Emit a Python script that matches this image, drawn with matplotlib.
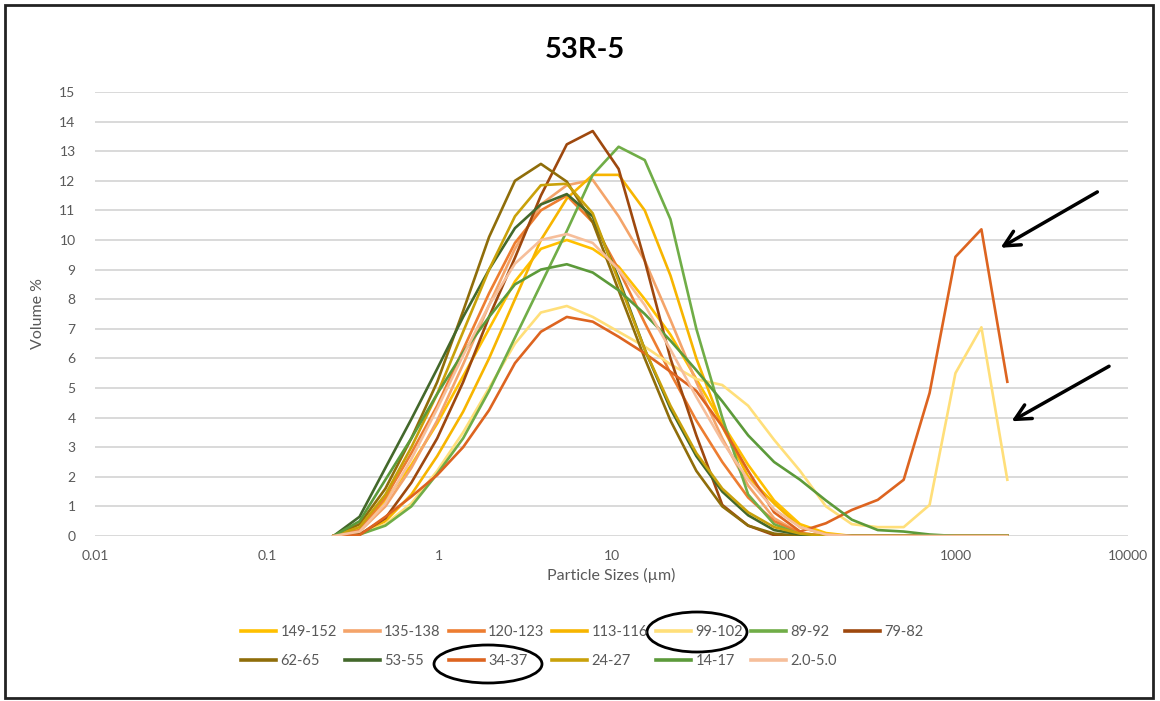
import matplotlib
matplotlib.use("Agg")
import matplotlib.pyplot as plt
from matplotlib.patches import Rectangle, Ellipse

plt.rcParams['font.family'] = ['Lato', 'DejaVu Sans']

# particle size bins (um)
sizes = [0.243, 0.344, 0.486, 0.688, 0.972, 1.375, 1.945, 2.75, 3.89, 5.50,
         7.78, 11.0, 15.6, 22.0, 31.1, 44.0, 62.2, 88.0, 124.5, 176,
         249, 352, 498, 704, 995, 1408, 1991]

s149_152 = [0, 0.2, 1.2, 2.4, 3.8, 5.4, 7.0, 8.6, 9.7, 10.0, 9.7, 9.1, 8.0, 6.8,
            5.3, 3.8, 2.4, 1.2, 0.4, 0.1, 0, 0, 0, 0, 0, 0, 0]
s135_138 = [0, 0.15, 1.0, 2.3, 3.9, 5.8, 7.8, 9.7, 11.2, 11.85, 12.03, 10.8, 9.3,
            7.3, 5.2, 3.3, 1.7, 0.6, 0.1, 0, 0, 0, 0, 0, 0, 0, 0]
s120_123 = [0, 0.2, 1.3, 2.8, 4.4, 6.3, 8.2, 9.9, 11.0, 11.5, 10.6, 9.0, 7.2,
            5.5, 3.9, 2.5, 1.3, 0.5, 0.1, 0, 0, 0, 0, 0, 0, 0, 0]
s113_116 = [0, 0.05, 0.5, 1.4, 2.7, 4.2, 6.0, 8.0, 10.0, 11.4, 12.2, 12.2, 11.0,
            8.8, 6.0, 3.7, 2.0, 1.1, 0.3, 0.05, 0, 0, 0, 0, 0, 0, 0]
s99_102 = [0, 0.05, 0.4, 1.1, 2.2, 3.5, 5.0, 6.5, 7.55, 7.77, 7.4, 6.9, 6.4,
           5.8, 5.3, 5.1, 4.4, 3.25, 2.2, 1.0, 0.4, 0.3, 0.3, 1.05, 5.5, 7.05, 1.9]
s89_92 = [0, 0.05, 0.35, 1.0, 2.1, 3.3, 4.9, 6.7, 8.5, 10.3, 12.2, 13.15, 12.7,
          10.7, 7.0, 4.0, 1.4, 0.4, 0.05, 0, 0, 0, 0, 0, 0, 0, 0]
s79_82 = [0, 0.05, 0.6, 1.8, 3.3, 5.2, 7.4, 9.4, 11.5, 13.23, 13.68, 12.4, 9.3,
          6.0, 3.4, 1.05, 0.35, 0.03, 0, 0, 0, 0, 0, 0, 0, 0, 0]
s62_65 = [0, 0.4, 1.6, 3.3, 5.2, 7.6, 10.1, 12.0, 12.57, 11.97, 10.6, 8.3, 6.0,
          3.9, 2.2, 1.0, 0.35, 0.08, 0, 0, 0, 0, 0, 0, 0, 0, 0]
s53_55 = [0, 0.65, 2.3, 3.95, 5.65, 7.4, 9.0, 10.4, 11.2, 11.55, 10.8, 8.7, 6.3,
          4.3, 2.7, 1.5, 0.7, 0.2, 0.05, 0, 0, 0, 0, 0, 0, 0, 0]
s34_37 = [0, 0.03, 0.65, 1.33, 2.06, 3.0, 4.25, 5.84, 6.9, 7.4, 7.24, 6.73, 6.17,
          5.55, 4.9, 3.7, 2.2, 0.8, 0.15, 0.43, 0.88, 1.22, 1.9, 4.83, 9.43, 10.36, 5.21]
s24_27 = [0, 0.3, 1.4, 3.0, 4.8, 6.9, 9.0, 10.8, 11.85, 11.9, 10.9, 8.6, 6.3,
          4.4, 2.8, 1.6, 0.8, 0.3, 0.08, 0, 0, 0, 0, 0, 0, 0, 0]
s14_17 = [0, 0.5, 1.9, 3.3, 4.8, 6.2, 7.4, 8.5, 9.0, 9.18, 8.9, 8.3, 7.5,
          6.6, 5.6, 4.55, 3.4, 2.5, 1.9, 1.2, 0.55, 0.2, 0.15, 0.05, 0, 0, 0]
s2_5 = [0, 0.15, 1.1, 2.6, 4.3, 6.1, 7.8, 9.2, 10.0, 10.2, 9.9, 9.0, 7.8,
        6.3, 4.7, 3.2, 1.9, 0.9, 0.3, 0.05, 0, 0, 0, 0, 0, 0, 0]

labels = ["149-152", "135-138", "120-123", "113-116", "99-102", "89-92", "79-82",
          "62-65", "53-55", "34-37", "24-27", "14-17", "2.0-5.0"]
series = [s149_152, s135_138, s120_123, s113_116, s99_102, s89_92, s79_82,
          s62_65, s53_55, s34_37, s24_27, s14_17, s2_5]
colors = ["#FFC000", "#F4A46A", "#ED7D31", "#F7B500", "#FFDF7A", "#70AD47", "#9E480E",
          "#8F6D0A", "#43682B", "#DD6420", "#C9A10A", "#5C9A3A", "#F6BE9A"]

W, H = 1160, 701
fig = plt.figure(figsize=(11.6, 7.01), dpi=100)
ax = fig.add_axes([0.0819, 0.2354, 0.8905, 0.6334])

handles = []
for vals, lab, col in zip(series, labels, colors):
    h, = ax.plot(sizes, vals, color=col, lw=1.9, label=lab)
    handles.append(h)

ax.set_xscale('log')
ax.set_xlim(0.01, 10000)
ax.set_ylim(0, 15)
ax.set_yticks(range(0, 16))
xt = [0.01, 0.1, 1, 10, 100, 1000, 10000]
ax.set_xticks(xt)
ax.set_xticklabels(["0.01", "0.1", "1", "10", "100", "1000", "10000"])
ax.minorticks_off()
ax.grid(axis='y', color='#D9D9D9', lw=1.4)
ax.set_axisbelow(True)
for sp in ax.spines.values():
    sp.set_visible(False)
ax.tick_params(length=0, labelsize=10, colors='#595959', pad=10)
ax.tick_params(axis='y', pad=14)

ax.set_xlabel("Particle Sizes (µm)", fontsize=11.5, color='#595959')
ax.xaxis.set_label_coords(0.5, -0.072)
ax.set_ylabel("Volume %", fontsize=11.5, color='#595959')
ax.yaxis.set_label_coords(-0.048, 0.5)

fig.text(0.504, 0.929, "53R-5", fontsize=21, fontweight='bold', ha='center', va='center')

# arrows pointing at the coarse peaks
arrow = dict(arrowstyle='->', color='black', lw=2.5, mutation_scale=28)
ax.annotate("", xy=(1761, 9.69), xytext=(6855, 11.67), arrowprops=arrow, annotation_clip=False)
ax.annotate("", xy=(2039, 3.83), xytext=(8017, 5.78), arrowprops=arrow, annotation_clip=False)

# legend in row order (7 + 6)
order = [0, 7, 1, 8, 2, 9, 3, 10, 4, 11, 5, 12, 6]
leg = fig.legend([handles[i] for i in order], [labels[i] for i in order],
                 loc='center', bbox_to_anchor=(0.502, 0.078), ncol=7, frameon=False,
                 fontsize=10.5, handlelength=2.4, handletextpad=0.3, columnspacing=0.55,
                 labelspacing=1.0)
for t in leg.get_texts():
    t.set_color('#595959')
for lh in leg.get_lines():
    lh.set_linewidth(2.6)

# hand-drawn circles around two legend entries
for cx, cy, ew, eh in [(697, 632, 100, 40), (488, 664, 108, 38)]:
    fig.patches.append(Ellipse((cx / W, 1 - cy / H), ew / W, eh / H,
                               transform=fig.transFigure, fill=False,
                               edgecolor='black', lw=2))

fig.patches.append(Rectangle((5 / W, 1 - 698 / H), 1148 / W, 693 / H,
                             transform=fig.transFigure, fill=False,
                             edgecolor='#222222', lw=2))

fig.savefig("out.png", dpi=100)
